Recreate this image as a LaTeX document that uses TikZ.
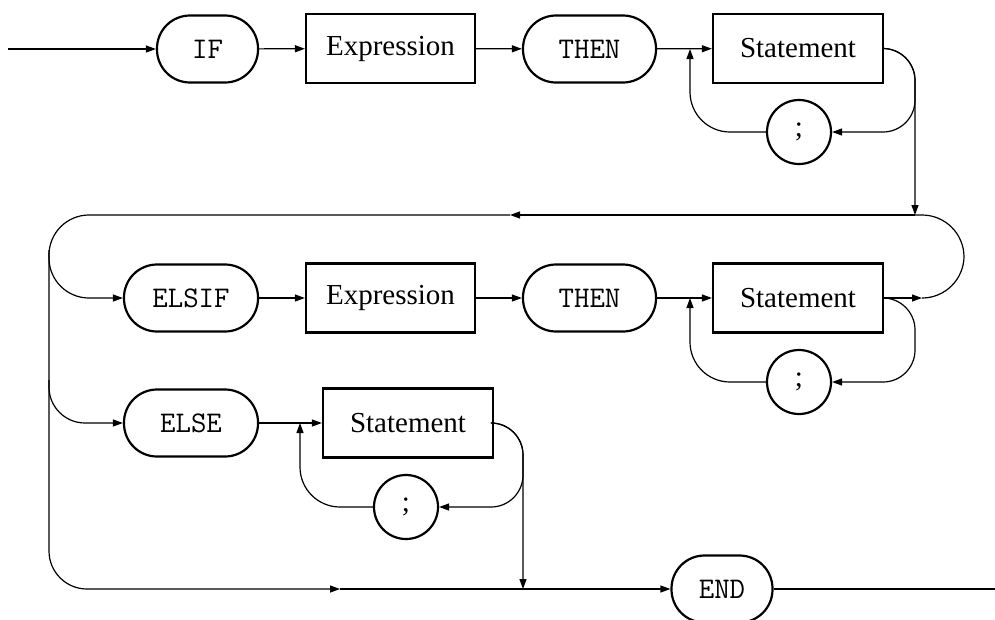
\documentclass[tikz,border=0pt]{standalone}
\usepackage{fontspec}
\setmainfont{Liberation Serif}
\usetikzlibrary{arrows.meta,positioning,shapes.geometric}

\begin{document}
\begin{tikzpicture}[x=1pt,y=-1pt,>={Triangle[length=10pt,width=7pt]}]

\tikzset{
keyword/.style={
    draw,
    line width=2.2pt,
    rounded corners=33pt,
    minimum height=67pt,
    minimum width=134pt,
    inner sep=0pt,
    font=\fontsize{30}{35}\selectfont\ttfamily
},
rule/.style={
    draw,
    line width=2.2pt,
    minimum height=69pt,
    minimum width=170pt,
    inner sep=0pt,
    font=\fontsize{29}{34}\selectfont
},
sep/.style={
    circle,
    draw,
    line width=2.2pt,
    minimum size=64pt,
    inner sep=0pt,
    font=\fontsize{29}{34}\selectfont
},
flow/.style={line width=1.2pt},
arrow/.style={flow,->}
}

\useasboundingbox (0,0) rectangle (995,619);

% first line: IF ... THEN
\node[keyword,minimum width=101pt] (if) at (207.5,49) {IF};
\node[rule,minimum width=169pt] (expr) at (390.5,48.5) {Expression};
\node[keyword,minimum width=133pt] (then) at (589.5,49) {THEN};
\node[rule] (stmt) at (798,48.5) {Statement};
\node[sep] (semi) at (799,132) {;};

% ELSIF line
\node[keyword] (elsif) at (191,298) {ELSIF};
\node[rule,minimum width=169pt] (expr2) at (390.5,298) {Expression};
\node[keyword,minimum width=133pt] (then2) at (589.5,298) {THEN};
\node[rule] (stmt2) at (798,298) {Statement};
\node[sep] (semi2) at (799,382) {;};

% ELSE line
\node[keyword] (else) at (191,423) {ELSE};
\node[rule] (stmt3) at (408,423) {Statement};
\node[sep] (semi3) at (406,507) {;};

\node[keyword,minimum width=101pt] (end) at (722,589) {END};

\coordinate (in) at (8,49);
\coordinate (j1) at (690,49);
\coordinate (j2) at (690,298);
\coordinate (j3) at (300,423);
\coordinate (down) at (915,215);
\coordinate (topmid) at (510,215);
\coordinate (rjoin) at (922,298);
\coordinate (bot) at (523,589);
\coordinate (botmid) at (340,589);
\coordinate (out) at (995,589);

\draw[arrow] (in) -- (if);
\draw[arrow] (if) -- (expr);
\draw[arrow] (expr) -- (then);
\draw[arrow] (then) -- (stmt);
\draw[arrow,rounded corners=32pt] (stmt.east) -| (down |- semi) -- (semi);
\draw[arrow,rounded corners=32pt] (stmt.east) -| (down);
\draw[arrow,rounded corners=40pt] (semi.west) -| (j1);

\draw[arrow] (down) -- (topmid);
\draw[arrow,rounded corners=40pt] (topmid) -- (49,215) -- (49,298) -- (elsif);
\draw[arrow,rounded corners=38pt] (49,250) -- (49,589) -- (botmid);
\draw[arrow,rounded corners=36pt] (49,380) |- (else);

\draw[arrow] (elsif) -- (expr2);
\draw[arrow] (expr2) -- (then2);
\draw[arrow] (then2) -- (stmt2);
\draw[arrow] (stmt2) -- (rjoin);
\draw[flow,rounded corners=42pt] (rjoin) -- (964,298) -- (964,215) -- (down);
\draw[arrow,rounded corners=32pt] (stmt2.east) -| (down |- semi2) -- (semi2);
\draw[arrow,rounded corners=40pt] (semi2.west) -| (j2);

\draw[arrow] (else) -- (stmt3);
\draw[arrow,rounded corners=32pt] (stmt3.east) -| (bot);
\draw[arrow,rounded corners=32pt] (stmt3.east) -| (bot |- semi3) -- (semi3);
\draw[arrow,rounded corners=40pt] (semi3.west) -| (j3);

\draw[arrow] (botmid) -- (end);
\draw[flow] (end) -- (out);

\end{tikzpicture}
\end{document}
